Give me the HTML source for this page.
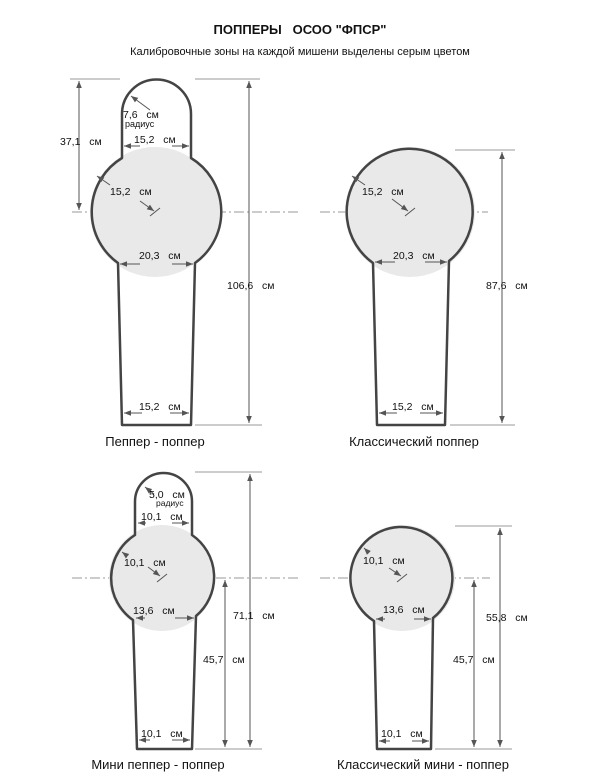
<!DOCTYPE html>
<html><head><meta charset="utf-8"><style>
html,body{margin:0;padding:0;background:#fff;}
svg{display:block;font-family:"Liberation Sans",Arial,sans-serif;}
text{white-space:pre;}
</style></head><body>
<svg width="600" height="780" viewBox="0 0 600 780" xmlns="http://www.w3.org/2000/svg">
<defs>
<marker id="a" viewBox="0 0 10 10" refX="10" refY="5" markerWidth="7" markerHeight="7" orient="auto-start-reverse"><path d="M0,1 L10,5 L0,9 Z" fill="#555"/></marker>
</defs>
<text x="300" y="34" font-size="13" font-weight="bold" text-anchor="middle" fill="#111">ПОППЕРЫ   ОСОО "ФПСР"</text>
<text x="300" y="55" font-size="11" text-anchor="middle" fill="#111">Калибровочные зоны на каждой мишени выделены серым цветом</text>

<g stroke="#999" stroke-width="1" stroke-dasharray="10,3,2,3" fill="none">
<line x1="72" y1="212" x2="300" y2="212"/>
<line x1="320" y1="212" x2="488" y2="212"/>
<line x1="72" y1="578" x2="300" y2="578"/>
<line x1="320" y1="578" x2="490" y2="578"/>
</g>

<g fill="#e9e9e9">
<circle cx="155" cy="212" r="65"/>
<circle cx="410" cy="212" r="65"/>
<circle cx="162" cy="578" r="53"/>
<circle cx="402" cy="578" r="53"/>
</g>

<g fill="none" stroke="#444" stroke-width="2.5" stroke-linejoin="round">
<path d="M122,114 A34.5,34.5 0 0 1 191,114 L191,158 A63,63 0 0 1 195,263 L191,425 L122,425 L118,263 A63,63 0 0 1 122,158 Z"/>
<path d="M373,263 A63,63 0 1 1 449,261 L445,425 L377,425 Z"/>
<path d="M135,501.5 A28.5,28.5 0 0 1 192,501.5 L192,535 A51,51 0 0 1 196,616 L192,749 L137,749 L133,620 A51,51 0 0 1 135,535 Z"/>
<path d="M374,621 A51,51 0 1 1 433,618 L431,749 L377,749 Z"/>
</g>

<g stroke="#999" stroke-width="1">
<line x1="70" y1="79" x2="120" y2="79"/>
<line x1="195" y1="79" x2="260" y2="79"/>
<line x1="195" y1="425" x2="262" y2="425"/>
<line x1="455" y1="150" x2="515" y2="150"/>
<line x1="450" y1="425" x2="515" y2="425"/>
<line x1="195" y1="472" x2="262" y2="472"/>
<line x1="195" y1="749" x2="262" y2="749"/>
<line x1="455" y1="526" x2="512" y2="526"/>
<line x1="435" y1="749" x2="512" y2="749"/>
</g>

<g stroke="#555" stroke-width="1" fill="none" marker-start="url(#a)" marker-end="url(#a)">
<line x1="79" y1="81" x2="79" y2="210"/>
<line x1="249" y1="81" x2="249" y2="423"/>
<line x1="502" y1="152" x2="502" y2="423"/>
<line x1="250" y1="474" x2="250" y2="747"/>
<line x1="225" y1="580" x2="225" y2="747"/>
<line x1="500" y1="528" x2="500" y2="747"/>
<line x1="474" y1="580" x2="474" y2="747"/>
</g>
<g stroke="#555" stroke-width="1" fill="none" marker-end="url(#a)">
<line x1="140" y1="146" x2="124" y2="146"/><line x1="172" y1="146" x2="189" y2="146"/>
<line x1="140" y1="264" x2="120" y2="264"/><line x1="172" y1="264" x2="193" y2="264"/>
<line x1="142" y1="413" x2="124" y2="413"/><line x1="170" y1="413" x2="189" y2="413"/>
<line x1="150" y1="110" x2="131" y2="96"/>
<line x1="110" y1="185" x2="97" y2="176"/>
<line x1="140" y1="201" x2="154" y2="211"/>
<line x1="395" y1="262" x2="375" y2="262"/><line x1="425" y1="262" x2="447" y2="262"/>
<line x1="397" y1="413" x2="379" y2="413"/><line x1="420" y1="413" x2="443" y2="413"/>
<line x1="365" y1="185" x2="352" y2="176"/>
<line x1="392" y1="199" x2="408" y2="211"/>
<line x1="146" y1="523" x2="138" y2="523"/><line x1="172" y1="523" x2="189" y2="523"/>
<line x1="145" y1="618" x2="136" y2="618"/><line x1="175" y1="618" x2="194" y2="618"/>
<line x1="150" y1="740" x2="139" y2="740"/><line x1="172" y1="740" x2="190" y2="740"/>
<line x1="154" y1="494" x2="145" y2="487"/>
<line x1="126" y1="555" x2="122" y2="552"/>
<line x1="148" y1="567" x2="160" y2="576"/>
<line x1="385" y1="619" x2="376" y2="619"/><line x1="414" y1="619" x2="431" y2="619"/>
<line x1="390" y1="741" x2="379" y2="741"/><line x1="412" y1="741" x2="429" y2="741"/>
<line x1="369" y1="553" x2="364" y2="548"/>
<line x1="389" y1="568" x2="401" y2="576"/>
</g>
<g stroke="#555" stroke-width="1">
<line x1="150" y1="216" x2="160" y2="208"/>
<line x1="405" y1="216" x2="415" y2="208"/>
<line x1="157" y1="582" x2="167" y2="574"/>
<line x1="397" y1="582" x2="407" y2="574"/>
</g>

<g font-size="10.5" fill="#111">
<text x="123" y="118">7,6   см</text>
<text x="125" y="127" font-size="9">радиус</text>
<text x="134" y="143">15,2   см</text>
<text x="110" y="195">15,2   см</text>
<text x="139" y="259">20,3   см</text>
<text x="139" y="410">15,2   см</text>
<text x="60" y="145">37,1   см</text>
<text x="227" y="289">106,6   см</text>
<text x="155" y="446" font-size="13" text-anchor="middle">Пеппер - поппер</text>
<text x="362" y="195">15,2   см</text>
<text x="393" y="259">20,3   см</text>
<text x="392" y="410">15,2   см</text>
<text x="486" y="289">87,6   см</text>
<text x="414" y="446" font-size="13" text-anchor="middle">Классический поппер</text>
<text x="149" y="498">5,0   см</text>
<text x="156" y="506" font-size="8.5">радиус</text>
<text x="141" y="520">10,1   см</text>
<text x="124" y="566">10,1   см</text>
<text x="133" y="614">13,6   см</text>
<text x="141" y="737">10,1   см</text>
<text x="233" y="619">71,1   см</text>
<text x="203" y="663">45,7   см</text>
<text x="158" y="769" font-size="13" text-anchor="middle">Мини пеппер - поппер</text>
<text x="363" y="564">10,1   см</text>
<text x="383" y="613">13,6   см</text>
<text x="381" y="737">10,1   см</text>
<text x="486" y="621">55,8   см</text>
<text x="453" y="663">45,7   см</text>
<text x="423" y="769" font-size="13" text-anchor="middle">Классический мини - поппер</text>
</g>
</svg>
</body></html>
